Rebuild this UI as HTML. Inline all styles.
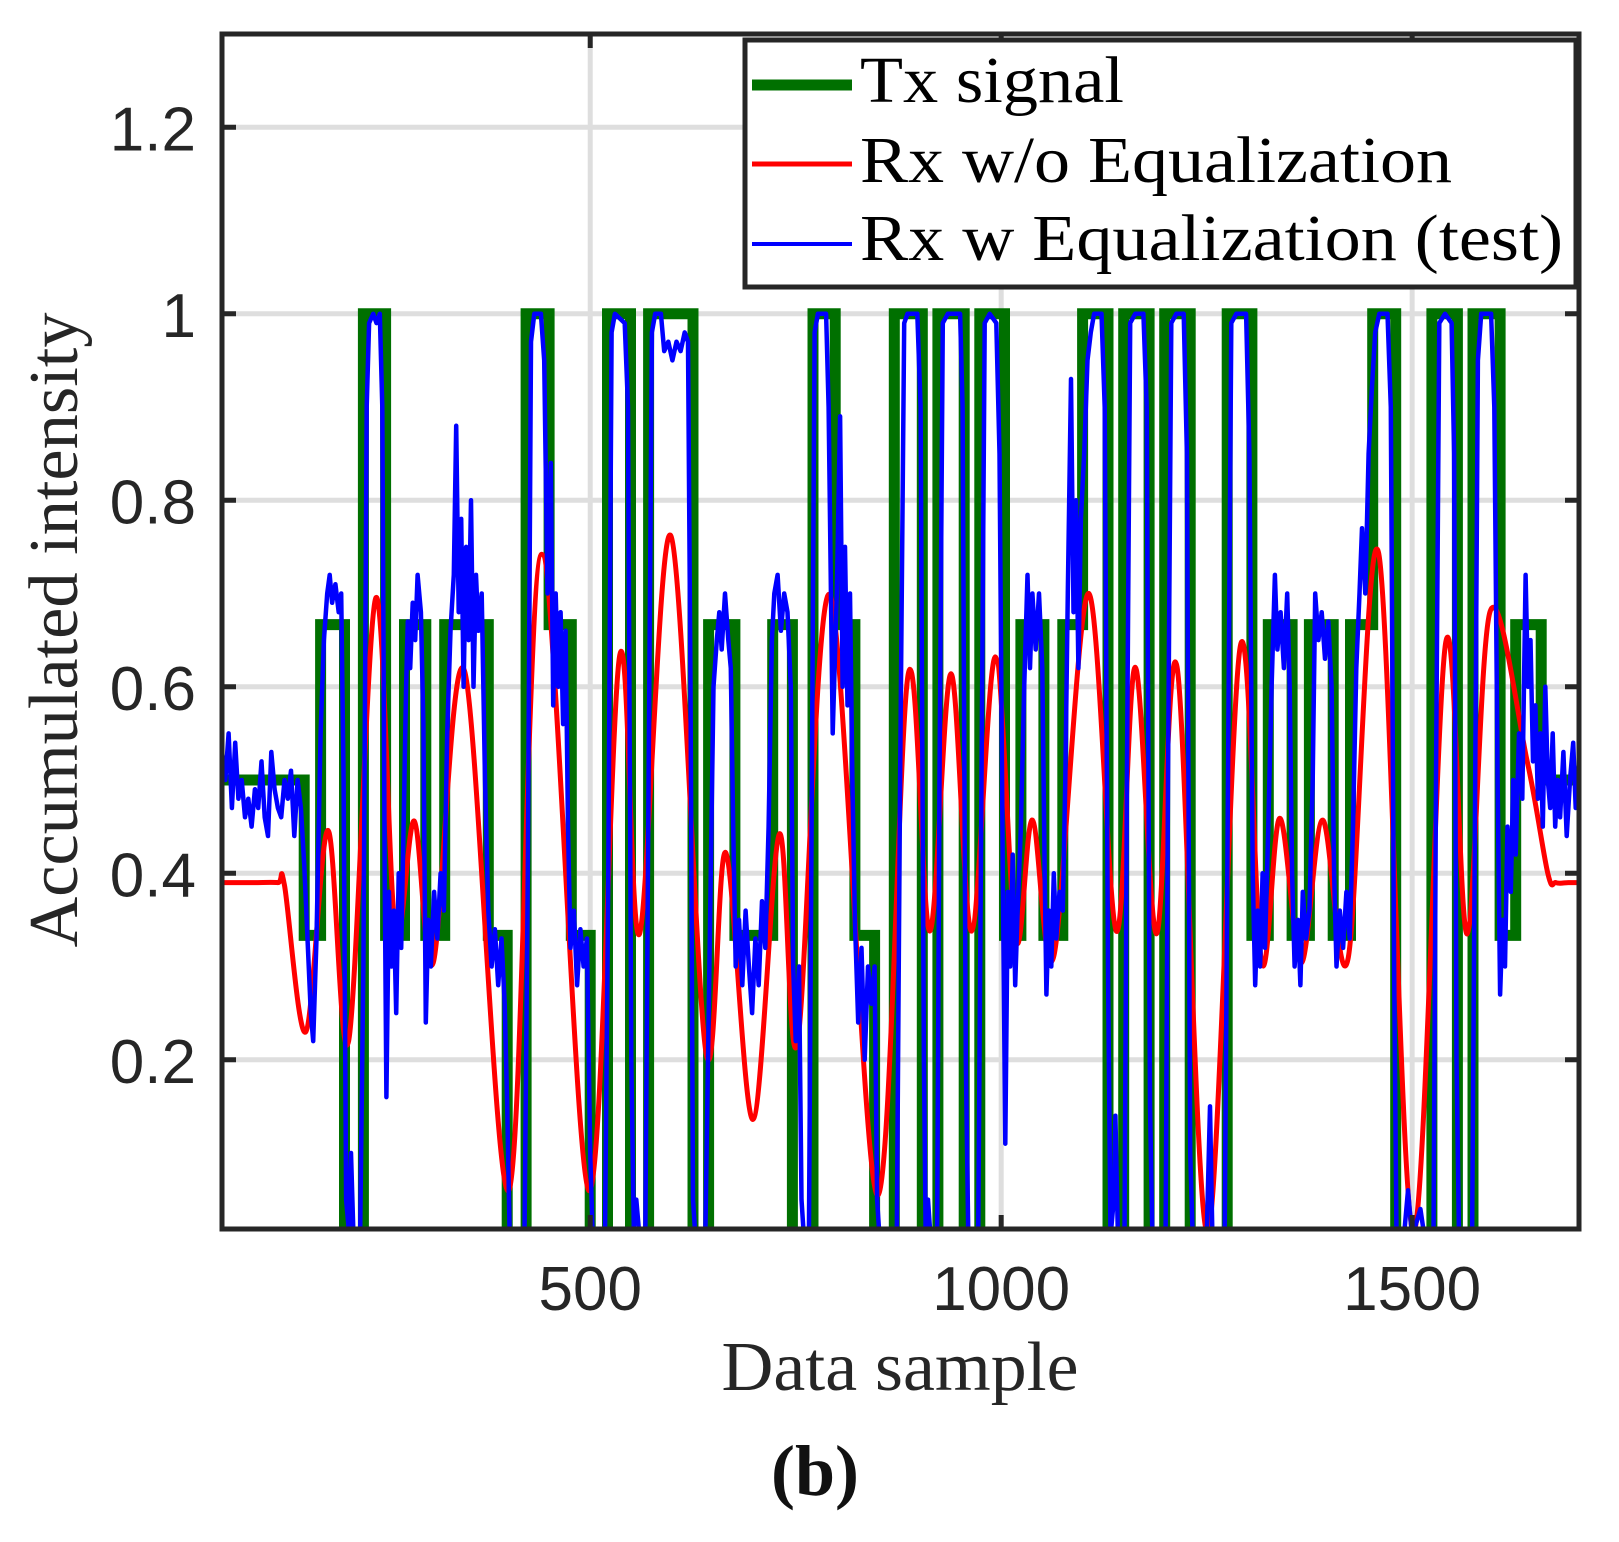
<!DOCTYPE html>
<html><head><meta charset="utf-8"><style>
html,body{margin:0;padding:0;background:#fff;}
svg{display:block;}
</style></head><body>
<svg id="chart" width="1619" height="1542" viewBox="0 0 1619 1542" xmlns="http://www.w3.org/2000/svg">
<defs><clipPath id="plotclip"><rect x="222" y="34" width="1357" height="1195"/></clipPath></defs>
<rect width="1619" height="1542" fill="#fff"/>
<g id="grid"></g>
<g id="series" clip-path="url(#plotclip)"></g>
<g id="axes"></g>
<text transform="translate(77,630) rotate(-90)" text-anchor="middle" font-family="Liberation Serif, serif" font-size="70" fill="#262626" textLength="635" lengthAdjust="spacingAndGlyphs">Accumulated intensity</text>
<text x="900" y="1390" text-anchor="middle" font-family="Liberation Serif, serif" font-size="70" fill="#262626" textLength="357" lengthAdjust="spacingAndGlyphs">Data sample</text>
<text x="815" y="1495" text-anchor="middle" font-family="Liberation Serif, serif" font-weight="bold" font-size="72" fill="#111">(b)</text>
<g id="legend">
<rect x="745" y="40" width="831" height="247" fill="#fff" stroke="#262626" stroke-width="5"/>
<line x1="752" y1="85" x2="852" y2="85" stroke="#007000" stroke-width="11"/>
<text x="860" y="102" font-family="Liberation Serif, serif" font-size="66" fill="#000" textLength="264" lengthAdjust="spacingAndGlyphs">Tx signal</text>
<line x1="752" y1="164" x2="852" y2="164" stroke="#ff0000" stroke-width="5"/>
<text x="860" y="182" font-family="Liberation Serif, serif" font-size="66" fill="#000" textLength="592" lengthAdjust="spacingAndGlyphs">Rx w/o Equalization</text>
<line x1="752" y1="244" x2="852" y2="244" stroke="#0000ff" stroke-width="4"/>
<text x="860" y="260" font-family="Liberation Serif, serif" font-size="66" fill="#000" textLength="703" lengthAdjust="spacingAndGlyphs">Rx w Equalization (test)</text>
</g>
</svg>
<script>
const xTicks = [500, 1000, 1500];
const yTicks = [0.2, 0.4, 0.6, 0.8, 1, 1.2];
const yTickLabels = ["0.2", "0.4", "0.6", "0.8", "1", "1.2"];
// Tx step signal: level starts at each x
const txStartX = [52,152,172,201,224,251,274,300,323,376,399,422,450,477,500,521,549,571,625,644,676,722,746,771,798,822,846,870,904,923,955,974,1004,1024,1052,1075,1099,1130,1149,1180,1199,1230,1275,1305,1325,1354,1375,1404,1425,1452,1480,1524,1555,1574,1607,1626,1657];
const txLevel = [0.5,1/3,2/3,0,1,1/3,2/3,1/3,2/3,1/3,0,1,2/3,1/3,0,1,0,1,0,2/3,1/3,2/3,0,1,2/3,1/3,0,1,0,1,0,1,1/3,2/3,1/3,2/3,1,0,1,0,1,0,1,1/3,2/3,1/3,2/3,1/3,2/3,1,0,1,0,1,1/3,2/3,0.5];
const txEndX = 1703;
// Rx without equalization (smooth curve key points)
const redX = [52,90,120,128,154,181,206,239,263,286,309,347,401,441,498,536,560,598,641,665,698,730,752,792,849,887,913,939,964,993,1018,1038,1064,1106,1140,1163,1189,1214,1251,1291,1317,1339,1365,1391,1422,1459,1501,1541,1567,1595,1640,1665,1675,1690,1703];
const redY = [0.39,0.39,0.39,0.387,0.23,0.446,0.22,0.695,0.338,0.456,0.304,0.617,0.06,0.742,0.06,0.634,0.335,0.762,0.207,0.422,0.136,0.442,0.217,0.698,0.055,0.614,0.338,0.614,0.338,0.632,0.328,0.457,0.311,0.70,0.338,0.621,0.335,0.621,0.015,0.644,0.304,0.459,0.304,0.457,0.308,0.744,0.015,0.648,0.335,0.681,0.52,0.40,0.39,0.39,0.39];
// Rx with equalization
const blueX = [52,56,60,64,68,72,76,80,84,88,92,96,100,104,108,112,116,120,124,128,132,136,140,144,148,152,156,160,163,167,172,176,180,183,186,190,194,197,200,203,206,209,212,220,224,228,231,236,240,244,247,250,252,255,258,261,264,267,270,273,276,278,281,284,287,290,294,297,300,303,306,310,314,318,322,326,330,334,337,340,343,346,349,352,355,358,361,364,368,372,376,380,384,388,392,396,399,402,420,424,428,432,440,444,448,452,455,458,461,464,467,470,473,476,480,484,488,492,496,500,503,518,522,526,530,542,546,550,553,556,560,567,571,575,579,586,590,595,600,605,610,615,619,622,625,628,640,645,650,654,657,660,664,668,671,674,677,681,685,689,693,697,701,705,709,713,717,721,724,728,732,736,740,744,747,750,754,757,760,766,769,773,777,787,790,795,800,804,807,810,813,816,819,822,826,830,834,838,842,846,849,852,873,877,882,886,898,902,906,908,911,914,922,925,929,935,950,953,957,960,972,976,980,986,994,998,1002,1005,1008,1011,1014,1017,1020,1024,1028,1032,1035,1038,1042,1046,1050,1053,1055,1058,1061,1064,1067,1071,1075,1078,1081,1085,1088,1091,1094,1097,1101,1105,1109,1113,1122,1126,1130,1133,1137,1139,1142,1150,1153,1157,1163,1173,1177,1181,1184,1200,1203,1207,1213,1222,1226,1230,1233,1250,1254,1257,1272,1276,1280,1286,1298,1302,1306,1309,1312,1315,1318,1321,1325,1329,1333,1336,1340,1344,1348,1351,1354,1357,1361,1364,1367,1371,1375,1379,1382,1386,1390,1394,1398,1402,1405,1408,1412,1416,1420,1424,1428,1432,1436,1439,1443,1447,1451,1455,1460,1470,1474,1478,1481,1490,1495,1500,1510,1515,1526,1529,1533,1540,1548,1551,1554,1557,1573,1576,1580,1584,1596,1600,1604,1607,1610,1613,1616,1620,1623,1626,1630,1634,1638,1641,1644,1647,1650,1653,1656,1659,1662,1665,1668,1671,1674,1677,1680,1684,1688,1692,1696,1699,1703];
const blueY = [.53,.5,.55,.47,.54,.48,.5,.46,.48,.45,.49,.47,.52,.46,.44,.53,.49,.47,.46,.5,.48,.51,.44,.5,.47,.41,.33,.25,.22,.33,.55,.65,.7,.72,.69,.71,.68,.7,.5,.05,.02,.1,.01,.01,.3,.9,.99,1,.99,1,.9,.4,.16,.38,.3,.36,.25,.4,.32,.45,.6,.67,.62,.69,.65,.72,.68,.56,.24,.35,.3,.38,.33,.4,.36,.55,.66,.72,.88,.68,.78,.6,.75,.65,.8,.6,.72,.66,.7,.5,.36,.3,.34,.28,.33,.26,.15,.01,.01,.4,.97,1,1,.95,.7,.84,.58,.7,.6,.68,.56,.66,.45,.32,.36,.28,.34,.3,.33,.1,.01,.01,.4,.98,1,.99,.9,.2,.02,.05,.01,.01,.5,.98,1,1,.96,.97,.95,.97,.96,.98,.97,.6,.05,.01,.01,.3,.6,.65,.68,.64,.7,.65,.62,.45,.3,.35,.28,.36,.3,.25,.33,.28,.37,.32,.45,.65,.7,.72,.66,.7,.68,.6,.3,.22,.3,.05,.01,.01,.4,.98,1,1,.9,.55,.7,.89,.6,.75,.58,.7,.5,.35,.24,.32,.2,.3,.26,.3,.05,.01,.01,.5,.99,1,1,.9,.2,.02,.05,.01,.01,.5,.99,1,1,.9,.2,.01,.01,.5,.99,1,.99,.85,.4,.11,.38,.3,.42,.28,.36,.45,.6,.72,.62,.7,.64,.7,.62,.4,.27,.36,.3,.4,.33,.38,.36,.5,.7,.93,.68,.8,.62,.78,.85,.95,.98,1,1,.9,.3,.01,.05,.14,.01,.01,.5,.99,1,1,.9,.15,.01,.01,.5,.99,1,1,.85,.1,.01,.01,.15,.01,.01,.5,.99,1,1,.85,.4,.28,.36,.3,.4,.32,.45,.6,.72,.64,.68,.62,.7,.6,.4,.3,.35,.28,.38,.33,.36,.5,.7,.65,.68,.63,.67,.6,.4,.3,.36,.32,.38,.33,.45,.62,.7,.77,.7,.85,.92,.98,1,1,.9,.3,.01,.01,.06,.01,.04,.01,.01,.5,.99,1,.99,.85,.2,.01,.01,.4,.95,1,1,.9,.5,.27,.35,.3,.45,.38,.5,.42,.55,.48,.72,.6,.65,.52,.58,.48,.55,.45,.6,.5,.47,.55,.45,.5,.46,.53,.44,.5,.54,.47,.52];

const X0=52, X1=1703, PX0=222, PX1=1579;
const Y0=0.0185, Y1=1.3, PY0=1229, PY1=34;
function sx(v){return PX0+(v-X0)/(X1-X0)*(PX1-PX0);}
function sy(v){return PY0+(v-Y0)/(Y1-Y0)*(PY1-PY0);}
const NS='http://www.w3.org/2000/svg';
function mk(tag, parent){const e=document.createElementNS(NS,tag);parent.appendChild(e);return e;}

const grid=document.getElementById('grid');
const axes=document.getElementById('axes');
xTicks.forEach(function(t){
  const g=mk('line',grid);
  
  
  g.setAttribute('x1',sx(t));g.setAttribute('x2',sx(t));g.setAttribute('y1',PY1);g.setAttribute('y2',PY0);
  g.setAttribute('stroke','#dedede');g.setAttribute('stroke-width','5');
  const lb=mk('text',axes);
  
  
  lb.setAttribute('x',sx(t));lb.setAttribute('y',1310);lb.setAttribute('text-anchor','middle');
  lb.setAttribute('font-family','Liberation Sans, sans-serif');lb.setAttribute('font-size','62');lb.setAttribute('fill','#262626');
  lb.textContent=String(t);
  [[PY0,PY0-14],[PY1,PY1+14]].forEach(function(p){
    const tk=mk('line',axes);
    
    
    tk.setAttribute('x1',sx(t));tk.setAttribute('x2',sx(t));tk.setAttribute('y1',p[0]);tk.setAttribute('y2',p[1]);
    tk.setAttribute('stroke','#262626');tk.setAttribute('stroke-width','5');
  });
});
yTicks.forEach(function(t,i){
  const g=mk('line',grid);
  
  
  g.setAttribute('x1',PX0);g.setAttribute('x2',PX1);g.setAttribute('y1',sy(t));g.setAttribute('y2',sy(t));
  g.setAttribute('stroke','#dedede');g.setAttribute('stroke-width','5');
  const lb=mk('text',axes);
  
  
  lb.setAttribute('x',196);lb.setAttribute('y',sy(t)+23);lb.setAttribute('text-anchor','end');
  lb.setAttribute('font-family','Liberation Sans, sans-serif');lb.setAttribute('font-size','62');lb.setAttribute('fill','#262626');
  lb.textContent=yTickLabels[i];
  [[PX0,PX0+14],[PX1,PX1-14]].forEach(function(p){
    const tk=mk('line',axes);
    
    
    tk.setAttribute('x1',p[0]);tk.setAttribute('x2',p[1]);tk.setAttribute('y1',sy(t));tk.setAttribute('y2',sy(t));
    tk.setAttribute('stroke','#262626');tk.setAttribute('stroke-width','5');
  });
});
const frame=mk('rect',axes);


frame.setAttribute('x',PX0);frame.setAttribute('y',PY1);frame.setAttribute('width',PX1-PX0);frame.setAttribute('height',PY0-PY1);
frame.setAttribute('fill','none');frame.setAttribute('stroke','#262626');frame.setAttribute('stroke-width','5');

const series=document.getElementById('series');
// Tx step
let d='';
txStartX.forEach(function(x,i){
  const xe = i+1<txStartX.length ? txStartX[i+1] : txEndX;
  const y=sy(txLevel[i]);
  d += (i===0?'M':'L')+sx(x).toFixed(1)+','+y.toFixed(1)+'L'+sx(xe).toFixed(1)+','+y.toFixed(1);
});
const tx=mk('path',series);


tx.setAttribute('d',d);tx.setAttribute('fill','none');tx.setAttribute('stroke','#007000');tx.setAttribute('stroke-width','11');tx.setAttribute('stroke-linejoin','miter');

// Red smooth (Catmull-Rom)
const rp=redX.map(function(x,i){return [sx(x),sy(redY[i])];});
let rd='M'+rp[0][0].toFixed(1)+','+rp[0][1].toFixed(1);
for(let i=0;i<rp.length-1;i++){
  const p0=rp[Math.max(0,i-1)],p1=rp[i],p2=rp[i+1],p3=rp[Math.min(rp.length-1,i+2)];
  const c1=[p1[0]+(p2[0]-p0[0])/6,p1[1]+(p2[1]-p0[1])/6];
  const c2=[p2[0]-(p3[0]-p1[0])/6,p2[1]-(p3[1]-p1[1])/6];
  rd+='C'+c1[0].toFixed(1)+','+c1[1].toFixed(1)+' '+c2[0].toFixed(1)+','+c2[1].toFixed(1)+' '+p2[0].toFixed(1)+','+p2[1].toFixed(1);
}
const red=mk('path',series);


red.setAttribute('d',rd);red.setAttribute('fill','none');red.setAttribute('stroke','#ff0000');red.setAttribute('stroke-width','5');

// Blue
const bp=blueX.map(function(x,i){return sx(x).toFixed(1)+','+sy(blueY[i]).toFixed(1);}).join(' ');
const blue=mk('polyline',series);


blue.setAttribute('points',bp);blue.setAttribute('fill','none');blue.setAttribute('stroke','#0000ff');blue.setAttribute('stroke-width','4.5');blue.setAttribute('stroke-linejoin','round');
</script>
</body></html>
